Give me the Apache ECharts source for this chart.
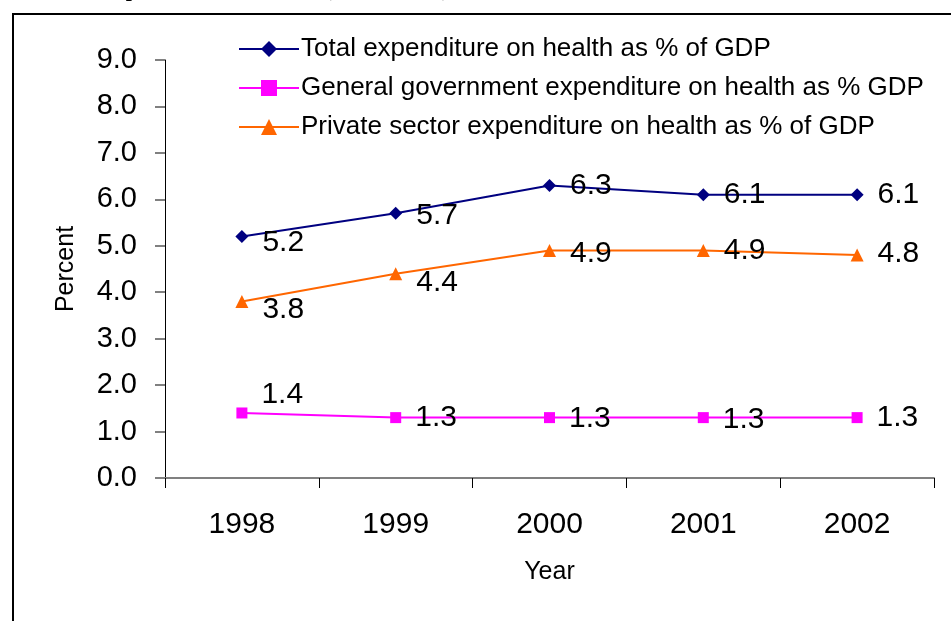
<!DOCTYPE html>
<html>
<head>
<meta charset="utf-8">
<script src="https://cdn.jsdelivr.net/npm/echarts@6/dist/echarts.min.js"></script>
<style>
  html, body { margin: 0; padding: 0; background: #fff; }
  #chart { width: 951px; height: 621px; }
</style>
</head>
<body>
<div id="chart"></div>
<script>
// Health expenditure as a share of GDP, 1998-2002
const years = ['1998', '1999', '2000', '2001', '2002'];
const totalExpenditure = [5.2, 5.7, 6.3, 6.1, 6.1];
const governmentExpenditure = [1.4, 1.3, 1.3, 1.3, 1.3];
const privateExpenditure = [3.8, 4.4, 4.9, 4.9, 4.8];
const yTickLabels = ['0.0', '1.0', '2.0', '3.0', '4.0', '5.0', '6.0', '7.0', '8.0', '9.0'];

const seriesNames = [
  'Total expenditure on health as % of GDP',
  'General government expenditure on health as % GDP',
  'Private sector expenditure on health as % of GDP'
];

// vertical nudges for the value labels of each line
const totalLabelShift = [6, 2, 0, 0, 0];
const govLabelShift = [-18, 0, 1, 2, 0];
const privateLabelShift = [8, 9, 3, 0, -1];

function withLabels(values, shifts) {
  return values.map((v, i) => ({
    value: v,
    label: { offset: [0, shifts[i]] }
  }));
}

const FONT = 'Arial, "Liberation Sans", sans-serif';

const labelStyle = {
  show: true,
  position: 'right',
  distance: 14,
  fontFamily: FONT,
  fontSize: 30,
  color: '#000',
  formatter: p => p.value.toFixed(1)
};

const chart = echarts.init(document.getElementById('chart'), null, { renderer: 'canvas' });

chart.setOption({
  animation: false,
  backgroundColor: '#fff',
  textStyle: { fontFamily: FONT },
  graphic: [
    {
      type: 'rect',
      shape: { x: 13, y: 14, width: 960, height: 640 },
      style: { fill: 'none', stroke: '#000', lineWidth: 2 },
      silent: true
    },
    {
      type: 'text',
      left: 31,
      top: -21,
      style: {
        text: 'Health Expenditure Indicators (1998 \u2013 2002)',
        font: 'bold 22px "Liberation Serif", "Times New Roman", serif',
        fill: '#000'
      },
      silent: true
    }
  ],
  grid: { left: 165, right: 17, top: 60, bottom: 143 },
  legend: {
    orient: 'vertical',
    left: 233,
    top: 31,
    itemWidth: 60,
    itemHeight: 20,
    itemGap: 13,
    data: seriesNames,
    textStyle: { fontSize: 26, color: '#000', padding: [0, 0, 0, -3] }
  },
  xAxis: {
    type: 'category',
    data: years,
    boundaryGap: true,
    name: 'Year',
    nameLocation: 'middle',
    nameGap: 82,
    nameTextStyle: { fontSize: 25, color: '#000' },
    axisLine: { lineStyle: { color: '#808080', width: 2 } },
    axisTick: { show: true, inside: false, length: 10, lineStyle: { color: '#000', width: 1 } },
    axisLabel: { fontSize: 30, color: '#000', margin: 32 },
    splitLine: { show: false }
  },
  yAxis: {
    type: 'value',
    min: 0,
    max: 9,
    interval: 1,
    name: 'Percent',
    nameLocation: 'middle',
    nameGap: 86,
    nameRotate: 90,
    nameTextStyle: { fontSize: 25, color: '#000' },
    axisLine: { show: true, lineStyle: { color: '#000', width: 1 } },
    axisTick: { show: true, inside: false, length: 10, lineStyle: { color: '#808080', width: 2 } },
    axisLabel: {
      fontSize: 29,
      color: '#000',
      margin: 28,
      formatter: (v) => yTickLabels[Math.round(v)]
    },
    splitLine: { show: false }
  },
  series: [
    {
      name: seriesNames[0],
      type: 'line',
      data: withLabels(totalExpenditure, totalLabelShift),
      symbol: 'diamond',
      symbolSize: 13,
      lineStyle: { color: '#000080', width: 2 },
      itemStyle: { color: '#000080' },
      label: labelStyle,
      z: 3
    },
    {
      name: seriesNames[1],
      type: 'line',
      data: withLabels(governmentExpenditure, govLabelShift),
      symbol: 'rect',
      symbolSize: 11,
      lineStyle: { color: '#FF00FF', width: 2 },
      itemStyle: { color: '#FF00FF' },
      label: labelStyle,
      z: 3
    },
    {
      name: seriesNames[2],
      type: 'line',
      data: withLabels(privateExpenditure, privateLabelShift),
      symbol: 'triangle',
      symbolSize: 13,
      lineStyle: { color: '#FF6600', width: 2 },
      itemStyle: { color: '#FF6600' },
      label: labelStyle,
      z: 3
    }
  ]
});
</script>
</body>
</html>
